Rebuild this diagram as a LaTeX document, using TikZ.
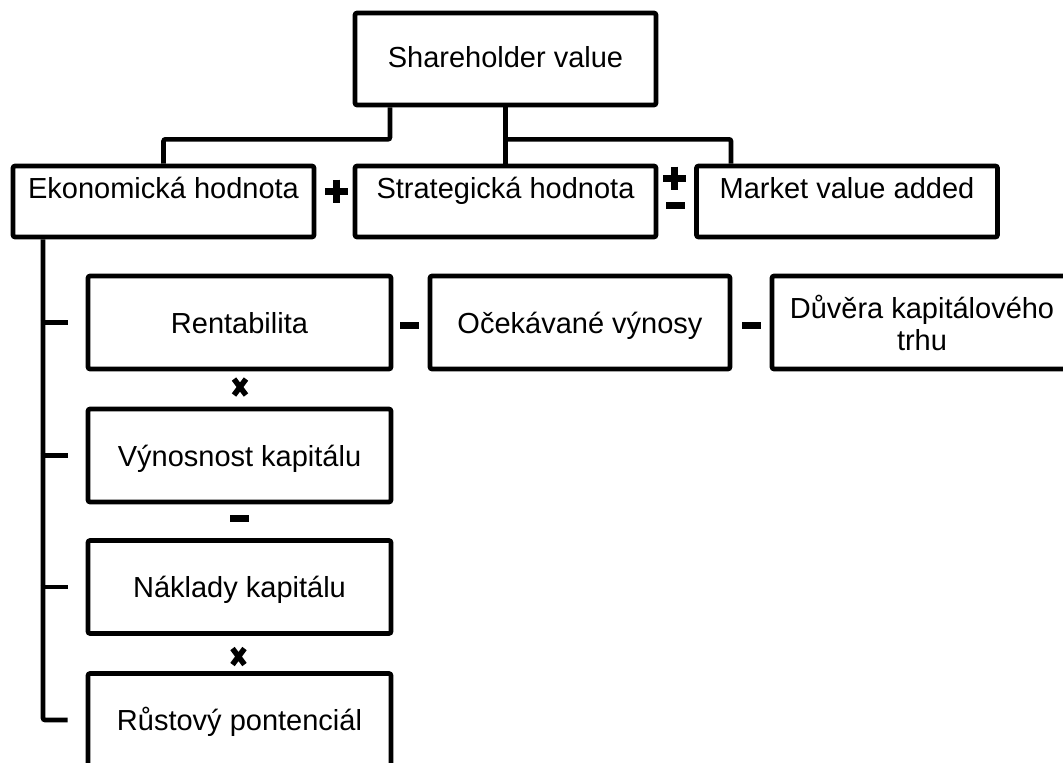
\documentclass[tikz,border=0pt]{standalone}
\usepackage{fontspec}
\setmainfont{Liberation Sans}
\begin{document}
\begin{tikzpicture}[x=1pt,y=-1pt,
  box/.style={draw, line width=4.6pt, rounded corners=2pt, inner sep=0pt,
    align=center, font=\fontsize{29pt}{32pt}\selectfont},
  toprow/.style={box, minimum width=301pt, minimum height=71pt,
    text height=21pt, text depth=28pt},
  colbox/.style={box, minimum width=303pt, minimum height=93pt,
    text height=21pt, text depth=0pt},
  rowbox/.style={box, minimum width=300pt, minimum height=93pt},
  link/.style={line width=4.6pt, rounded corners=2pt},
  opplus/.pic={\draw[line width=7pt] (-11.5,0) -- (11.5,0) (0,-11.5) -- (0,11.5);},
  opminus/.pic={\fill (-9.5,-3.5) rectangle (9.5,3.5);},
  optimes/.pic={\draw[line width=5.5pt] (-6,-8) -- (6,8) (-6,8) -- (6,-8);}
]
\useasboundingbox (0,0) rectangle (1063,763);
\clip (0,0) rectangle (1063,763);

% top of the tree
\node[box, minimum width=301pt, minimum height=92pt,
  text height=21pt, text depth=5pt] (sv) at (505.5,59) {Shareholder value};

% second level
\node[toprow] (eko) at (163.5,201.5) {Ekonomická hodnota};
\node[toprow] (str) at (505.5,201.5) {Strategická hodnota};
\node[toprow] (mva) at (847,201.5) {Market value added};

% components of the economic value
\node[colbox] (ren)  at (239.5,322.5) {Rentabilita};
\node[colbox] (vyn)  at (239.5,455.5) {Výnosnost kapitálu};
\node[colbox] (nak)  at (239.5,587)   {Náklady kapitálu};
\node[colbox] (rust) at (239.5,720)   {Růstový pontenciál};

% profitability chain
\node[rowbox, text height=21pt, text depth=0pt] (oce) at (580,322.5) {Očekávané výnosy};
\node[rowbox] (duv) at (922,322.5) {Důvěra kapitálového\\trhu};

% tree connectors
\draw[link] ([xshift=-115.5pt]sv.south) -- ++(0,32) -| (eko.north);
\draw[link] (sv.south) -- (str.north);
\draw[link] ([yshift=-32pt]sv.south) -| ([xshift=-116pt]mva.north);

% left bracket of the economic value
\draw[link] ([xshift=-120.5pt]eko.south) |- ([xshift=-18pt]rust.west);
\draw[link] ([xshift=-45pt]ren.west) -- ([xshift=-18pt]ren.west);
\draw[link] ([xshift=-45pt]vyn.west) -- ([xshift=-18pt]vyn.west);
\draw[link] ([xshift=-45pt]nak.west) -- ([xshift=-18pt]nak.west);

% operators
\pic at (336.5,191) {opplus};
\pic at (674.5,178) {opplus};
\pic at (675.5,205) {opminus};
\pic at (409,325) {opminus};
\pic at (751,325) {opminus};
\pic at (240,387) {optimes};
\pic at (239.5,518.5) {opminus};
\pic at (238.5,656.5) {optimes};
\end{tikzpicture}
\end{document}
